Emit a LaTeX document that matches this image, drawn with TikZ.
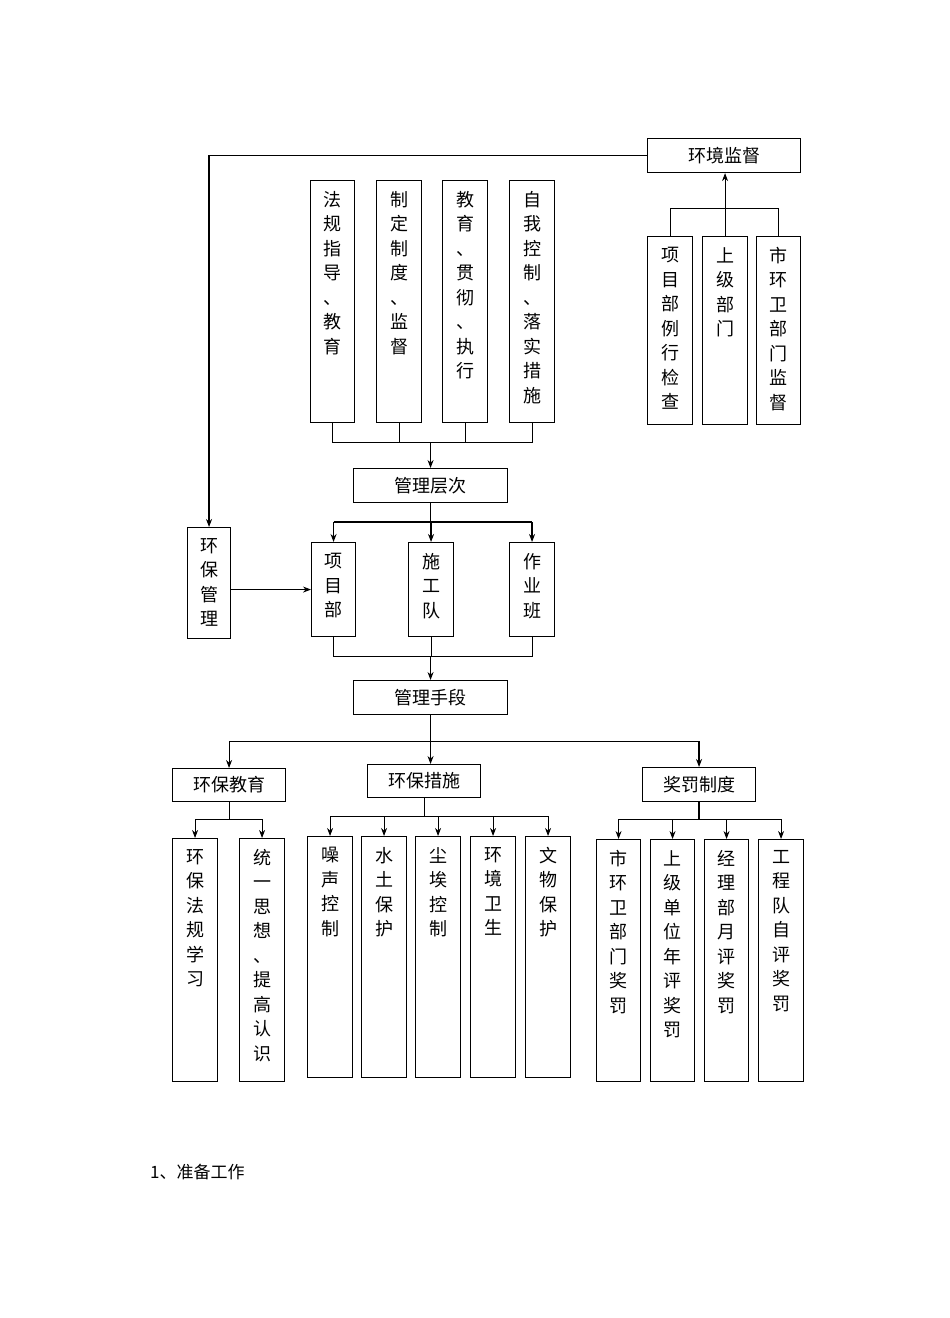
\documentclass[tikz,border=0pt]{standalone}
\usepackage{fontspec}
\newfontfamily\cjk{Noto Sans CJK SC}
\usetikzlibrary{arrows.meta,calc}
\begin{document}
\begin{tikzpicture}[x=1pt,y=-1pt,
  box/.style={draw,line width=1.1pt,inner sep=0pt,anchor=north west},
  lbl/.style={font=\cjk\fontsize{18}{20}\selectfont},
  vt/.style={font=\cjk\fontsize{18}{24.5}\selectfont,align=center,inner sep=0pt,anchor=north},
  con/.style={line width=0.9pt},
  thk/.style={line width=2pt},
  arr/.style={con,-{Stealth[length=8pt,width=6pt]}},
]
\fill[white] (0,0) rectangle (950,1318);
\useasboundingbox (0,0) rectangle (950,1318);
\newcommand\hbx[6]{\node[box,lbl,minimum width=#4pt,minimum height=#5pt] (#1) at (#2,#3) {#6};}
\newcommand\vbx[6]{\node[box,minimum width=#4pt,minimum height=#5pt] (#1) at (#2,#3) {};
  \node[vt] (#1t) at ($(#1.north)+(0,11)$) {#6};}

% top right
\hbx{env}{647}{138}{153}{34}{环境监督}
\vbx{s1}{647}{236}{45}{188}{项\\目\\部\\例\\行\\检\\查}
\vbx{s2}{702}{236}{45}{188}{上\\级\\部\\门}
\vbx{s3}{756}{236}{44}{188}{市\\环\\卫\\部\\门\\监\\督}
% top four
\vbx{a1}{310}{180}{44}{242}{法\\规\\指\\导\\、\\教\\育}
\vbx{a2}{376}{180}{45}{242}{制\\定\\制\\度\\、\\监\\督}
\vbx{a3}{442}{180}{45}{242}{教\\育\\、\\贯\\彻\\、\\执\\行}
\vbx{a4}{509}{180}{45}{242}{自\\我\\控\\制\\、\\落\\实\\措\\施}
\hbx{gc}{353}{468}{154}{34}{管理层次}
\vbx{hb}{187}{527}{43}{111}{环\\保\\管\\理}
\vbx{m1}{311}{542}{44}{94}{项\\目\\部}
\vbx{m2}{408}{542}{45}{94}{施\\工\\队}
\vbx{m3}{509}{542}{45}{94}{作\\业\\班}
\hbx{gs}{353}{680}{154}{34}{管理手段}
\hbx{e1}{172}{768}{113}{33}{环保教育}
\hbx{e2}{367}{764}{113}{33}{环保措施}
\hbx{e3}{642}{767}{113}{34}{奖罚制度}
\vbx{f1}{172}{838}{45}{243}{环\\保\\法\\规\\学\\习}
\vbx{f2}{239}{838}{45}{243}{统\\一\\思\\想\\、\\提\\高\\认\\识}
\vbx{g1}{307}{836}{45}{241}{噪\\声\\控\\制}
\vbx{g2}{361}{836}{45}{241}{水\\土\\保\\护}
\vbx{g3}{415}{836}{45}{241}{尘\\埃\\控\\制}
\vbx{g4}{470}{836}{45}{241}{环\\境\\卫\\生}
\vbx{g5}{525}{836}{45}{241}{文\\物\\保\\护}
\vbx{h1}{596}{839}{44}{242}{市\\环\\卫\\部\\门\\奖\\罚}
\vbx{h2}{650}{839}{44}{242}{上\\级\\单\\位\\年\\评\\奖\\罚}
\vbx{h3}{704}{839}{44}{242}{经\\理\\部\\月\\评\\奖\\罚}
\vbx{h4}{758}{839}{45}{242}{工\\程\\队\\自\\评\\奖\\罚}

\node[font=\cjk\fontsize{17}{20}\selectfont,anchor=west,inner sep=0pt] (t1) at (150,1172) {1、准备工作};

% connectors
\draw[arr,line width=1.8pt] (env.west) -| (hb.north);
\draw[con] (s1.north) -- ++(0,-28) -| (s3.north);
\draw[arr] (s2.north) -- (s2.north |- env.south);

\draw[con] (a1.south) -- ++(0,19) coordinate (ta) -| (a4.south);
\draw[con] (a2.south) -- (a2.south |- ta);
\draw[con] (a3.south) -- (a3.south |- ta);
\draw[arr] (ta -| gc.north) -- (gc.north);

\draw[con] (gc.south) -- ++(0,19) coordinate (b1);
\draw[thk] (b1 -| m1.north) -- (b1 -| m3.north);
\draw[arr,line width=1.3pt] (b1 -| m1.north) -- (m1.north);
\draw[arr,line width=1.3pt] (b1 -| m2.north) -- (m2.north);
\draw[arr,line width=1.3pt] (b1 -| m3.north) -- (m3.north);

\draw[arr] (hb.east |- m1.west) -- (m1.west);

\draw[con] (m1.south) -- ++(0,19) coordinate (tm) -| (m3.south);
\draw[con] (m2.south) -- (m2.south |- tm);
\draw[arr] (tm -| gs.north) -- (gs.north);

\draw[con] (gs.south) -- ++(0,26) coordinate (b2);
\draw[con] (b2 -| e1.north) -- (b2 -| e3.north);
\draw[arr] (b2 -| e1.north) -- (e1.north);
\draw[arr] (b2) -- (b2 |- e2.north);
\draw[arr,line width=1.5pt] (b2 -| e3.north) -- (e3.north);

\draw[con] (e1.south) -- ++(0,17) coordinate (b3);
\draw[con] (b3 -| f1.north) -- (b3 -| f2.north);
\draw[arr] (b3 -| f1.north) -- (f1.north);
\draw[arr] (b3 -| f2.north) -- (f2.north);

\draw[con] (e2.south) -- ++(0,18) coordinate (b4);
\draw[con] (b4 -| g1.north) -- (b4 -| g5.north);
\foreach \g in {g1,g2,g3,g4,g5} \draw[arr] (b4 -| \g.north) -- (\g.north);

\draw[line width=1.5pt] (e3.south) -- ++(0,17) coordinate (b5);
\draw[con] (b5 -| h1.north) -- (b5 -| h4.north);
\foreach \h in {h1,h2,h3,h4} \draw[arr] (b5 -| \h.north) -- (\h.north);
\end{tikzpicture}
\end{document}
